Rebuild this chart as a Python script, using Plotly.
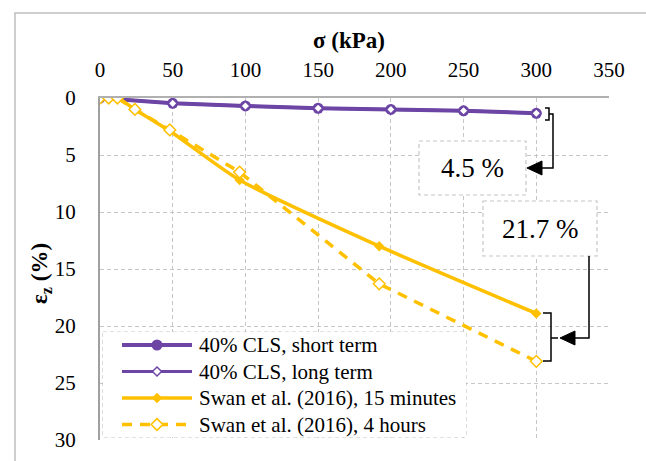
import plotly.graph_objects as go

# Stress (kPa) and vertical strain (%) for each series
sigma_cls = [0, 50, 100, 150, 200, 250, 300]
eps_cls_short = [0.0, 0.47, 0.70, 0.90, 1.00, 1.12, 1.34]
eps_cls_long = [0.0, 0.47, 0.70, 0.90, 1.00, 1.12, 1.34]

sigma_swan = [0, 6, 12, 24, 48, 96, 192, 300]
eps_swan_15min = [0.0, 0.0, 0.0, 1.0, 2.9, 7.2, 13.0, 18.9]
eps_swan_4h = [0.0, 0.0, 0.0, 1.0, 2.8, 6.5, 16.3, 23.1]

series_names = [
    "40% CLS, short term",
    "40% CLS, long term",
    "Swan et al. (2016), 15 minutes",
    "Swan et al. (2016), 4 hours",
]

x_ticks = [0, 50, 100, 150, 200, 250, 300, 350]
y_ticks = [0, 5, 10, 15, 20, 25, 30]

label_short = "4.5 %"
label_long = "21.7 %"

PURPLE = "#6c45a5"
GOLD = "#ffc000"
GRID = "#c6c6c6"
GRID_DASH = "4px,3px"
SERIF = "Liberation Serif"

W, H = 646, 461
L, R, T, B = 100, 609, 98, 440  # plot area in pixels


def px(x, y):
    """Pixel position -> paper coordinates."""
    return (x - L) / (R - L), (B - y) / (B - T)


# per-series styling (shared by the plot and the key)
styles = [
    dict(line=dict(color=PURPLE, width=4),
         marker=dict(symbol="circle", size=11, color=PURPLE, line=dict(width=0))),
    dict(line=dict(color=PURPLE, width=3),
         marker=dict(symbol="diamond", size=7, color="white", line=dict(color=PURPLE, width=1.5))),
    dict(line=dict(color=GOLD, width=3.5),
         marker=dict(symbol="diamond", size=8, color=GOLD, line=dict(width=0))),
    dict(line=dict(color=GOLD, width=3.5, dash="10px,8px"),
         marker=dict(symbol="diamond", size=9, color="white", line=dict(color=GOLD, width=1.5))),
]

fig = go.Figure()

data = [
    (sigma_cls, eps_cls_short),
    (sigma_cls, eps_cls_long),
    (sigma_swan, eps_swan_15min),
    (sigma_swan, eps_swan_4h),
]
for i, ((xs, ys), name, st) in enumerate(zip(data, series_names, styles)):
    line = dict(st["line"])
    if i == 2:
        line.update(shape="spline", smoothing=0.6)
    fig.add_trace(go.Scatter(x=xs, y=ys, name=name, mode="lines+markers",
                             line=line, marker=st["marker"], showlegend=False))

# ---- key, drawn on its own pixel-unit subplot ----
KEY_X0, KEY_X1, KEY_Y0, KEY_Y1 = 103, 466, 332, 437
key_rows = [345, 371.5, 398, 424.5]
for name, st, yy in zip(series_names, styles, key_rows):
    fig.add_trace(go.Scatter(x=[122, 157, 192], y=[yy, yy, yy], mode="lines",
                             line=st["line"], xaxis="x2", yaxis="y2",
                             showlegend=False, hoverinfo="skip"))
    fig.add_trace(go.Scatter(x=[157], y=[yy], mode="markers", marker=st["marker"],
                             xaxis="x2", yaxis="y2", showlegend=False, hoverinfo="skip"))

shapes = []


def rect_px(x0, y0, x1, y1, **kw):
    a, b = px(x0, y0)
    c, d = px(x1, y1)
    shapes.append(dict(type="rect", xref="paper", yref="paper",
                       x0=a, y0=b, x1=c, y1=d, **kw))


def path_px(points, closed=False, **kw):
    parts = []
    for i, (x, y) in enumerate(points):
        a, b = px(x, y)
        parts.append(("M" if i == 0 else "L") + f"{a:.5f},{b:.5f}")
    p = " ".join(parts) + (" Z" if closed else "")
    shapes.append(dict(type="path", xref="paper", yref="paper", path=p, **kw))


# outer chart frame (top and left edges)
path_px([(15, 470), (15, 13), (650, 13)], line=dict(color="#bfbfbf", width=1.5), layer="below")

# key frame
rect_px(KEY_X0, KEY_Y0, KEY_X1, KEY_Y1, fillcolor="white",
        line=dict(color=GRID, width=1.2, dash=GRID_DASH), layer="between")

# boxed labels
rect_px(419, 141, 526, 195, fillcolor="white",
        line=dict(color=GRID, width=1.2, dash=GRID_DASH), layer="above")
rect_px(483, 201, 597, 256, fillcolor="white",
        line=dict(color=GRID, width=1.2, dash=GRID_DASH), layer="above")

blk = dict(color="black", width=1.5)
# bracket + arrow for the short/long-term difference
path_px([(545, 108), (549, 108), (549, 120), (545, 120)], line=blk, layer="above")
path_px([(549, 114), (553, 114), (553, 168), (541, 168)], line=blk, layer="above")
path_px([(527, 168), (542, 161), (542, 175)], closed=True, fillcolor="black",
        line=dict(color="black", width=1), layer="above")
# bracket + arrow for the 15 min / 4 h difference
path_px([(543, 313), (551, 313), (551, 361), (543, 361)], line=blk, layer="above")
path_px([(551, 338), (558, 338)], line=blk, layer="above")
path_px([(589, 256), (589, 338), (574, 338)], line=blk, layer="above")
path_px([(560, 338), (575, 331), (575, 345)], closed=True, fillcolor="black",
        line=dict(color="black", width=1), layer="above")

annotations = []


def text_px(x, y, text, size, bold=False, angle=0):
    a, b = px(x, y)
    annotations.append(dict(
        xref="paper", yref="paper", x=a, y=b, text=f"<b>{text}</b>" if bold else text,
        showarrow=False, textangle=angle, xanchor="center", yanchor="middle",
        font=dict(family=SERIF, size=size, color="black")))


text_px(472, 168, label_short, 27)
text_px(540, 229, label_long, 27)
text_px(349, 40, "σ (kPa)", 23, bold=True)
text_px(41, 274, "ε<sub>z</sub> (%)", 23, bold=True, angle=-90)

for name, yy in zip(series_names, key_rows):
    annotations.append(dict(
        xref="x2", yref="y2", x=197, y=yy, text=name, showarrow=False,
        xanchor="left", yanchor="middle",
        font=dict(family=SERIF, size=21, color="black")))

fig.update_layout(
    width=W, height=H,
    margin=dict(l=L, r=W - R, t=T, b=H - B, pad=0, autoexpand=False),
    paper_bgcolor="white", plot_bgcolor="white",
    font=dict(family=SERIF, size=20, color="black"),
    shapes=shapes, annotations=annotations,
    showlegend=False,
    xaxis=dict(
        range=[0, 350], side="top", tickvals=x_ticks,
        showgrid=True, gridcolor=GRID, griddash=GRID_DASH, gridwidth=1,
        showline=True, linecolor="#b0b0b0", linewidth=2, zeroline=False,
        ticks="", ticklabelstandoff=11,
        tickfont=dict(family=SERIF, size=21, color="black"),
    ),
    yaxis=dict(
        range=[30, 0], tickvals=y_ticks,
        showgrid=True, gridcolor=GRID, griddash=GRID_DASH, gridwidth=1,
        showline=True, linecolor="#a0a0a0", linewidth=2, zeroline=False,
        ticks="", ticklabelstandoff=18,
        tickfont=dict(family=SERIF, size=21, color="black"),
    ),
    xaxis2=dict(domain=[px(KEY_X0, 0)[0], px(KEY_X1, 0)[0]], anchor="y2",
                range=[KEY_X0, KEY_X1], visible=False, fixedrange=True),
    yaxis2=dict(domain=[px(0, KEY_Y1)[1], px(0, KEY_Y0)[1]], anchor="x2",
                range=[KEY_Y1, KEY_Y0], visible=False, fixedrange=True),
)

fig.write_html("out.html")
